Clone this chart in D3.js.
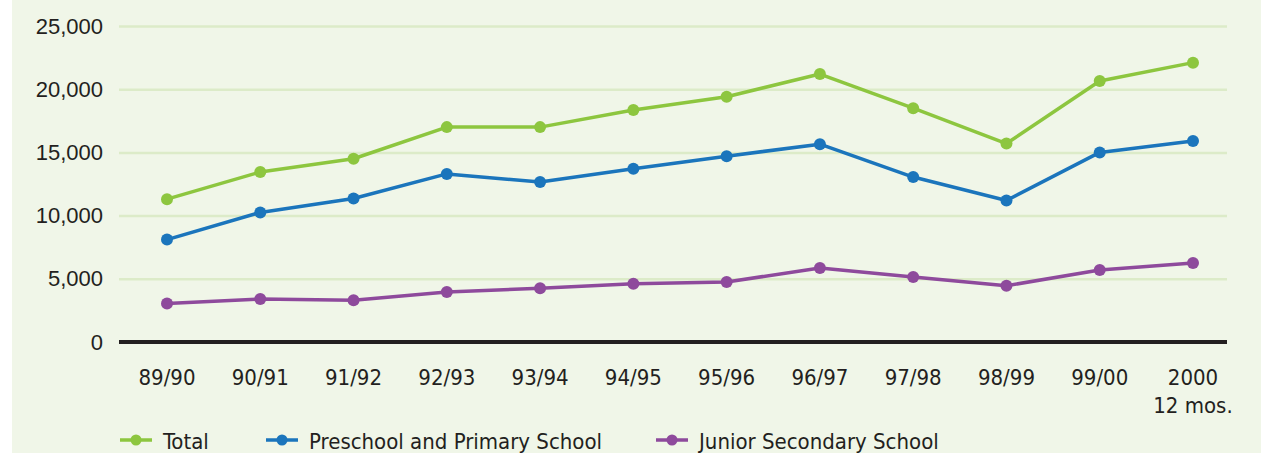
<!DOCTYPE html>
<html>
<head>
<meta charset="utf-8">
<script src="https://cdn.jsdelivr.net/npm/d3@7"></script>
<style>
  html, body { margin: 0; padding: 0; background: #fff; }
  svg { display: block; }
</style>
</head>
<body>
<div class="chart"></div>
<script>
// categories (fiscal years)
const years = ['89/90', '90/91', '91/92', '92/93', '93/94', '94/95', '95/96', '96/97', '97/98', '98/99', '99/00', '2000\n12 mos.'];

// series values
const total = [11300, 13450, 14500, 17000, 17000, 18350, 19400, 21200, 18500, 15700, 20650, 22100];
const preschool = [8100, 10250, 11350, 13300, 12650, 13700, 14700, 15650, 13050, 11200, 15000, 15900];
const junior = [3050, 3400, 3300, 3950, 4250, 4600, 4750, 5850, 5150, 4450, 5700, 6250];

const seriesNames = ['Total', 'Preschool and Primary School', 'Junior Secondary School'];
const seriesColors = ['#8dc63f', '#1b75bc', '#8e4a9c'];

const yTicks = [0, 5000, 10000, 15000, 20000, 25000];

const width = 1261, height = 453;

const svg = d3.select('.chart').append('svg')
    .attr('width', width)
    .attr('height', height);

// panel background
svg.append('rect')
    .attr('x', 12)
    .attr('y', 0)
    .attr('width', width - 12)
    .attr('height', height)
    .attr('fill', '#f0f6e8');

const plotLeft = 119, plotRight = 1227;

const x = d3.scalePoint()
    .domain(years)
    .range([167, 1193]);

const y = d3.scaleLinear()
    .domain([0, 25000])
    .range([342, 26]);

// gridlines + y labels
const yAxis = d3.axisLeft(y)
    .tickValues(yTicks)
    .tickSize(-(plotRight - plotLeft))
    .tickPadding(16)
    .tickFormat(d3.format(','));

const gy = svg.append('g')
    .attr('transform', 'translate(' + plotLeft + ',0)')
    .call(yAxis);
gy.select('.domain').remove();
gy.selectAll('.tick line')
    .attr('stroke', '#dcebc8')
    .attr('stroke-width', 2.5);
gy.selectAll('.tick text')
    .attr('fill', '#231f20')
    .attr('font-family', '"Liberation Sans", Arial, sans-serif')
    .attr('font-size', '22px');
gy.selectAll('.tick').filter(d => d === 0).select('line').remove();

// baseline
svg.append('line')
    .attr('x1', plotLeft)
    .attr('x2', plotRight)
    .attr('y1', y(0))
    .attr('y2', y(0))
    .attr('stroke', '#231f20')
    .attr('stroke-width', 4);

// x labels
const xLabels = svg.append('g');
years.forEach(function(cat) {
  const t = xLabels.append('text')
      .attr('x', x(cat))
      .attr('y', 385)
      .attr('text-anchor', 'middle')
      .attr('fill', '#231f20')
      .attr('font-family', '"DejaVu Sans Condensed", "DejaVu Sans", sans-serif')
      .attr('font-stretch', 'condensed')
      .attr('font-size', '22px');
  cat.split('\n').forEach(function(line, i) {
    t.append('tspan')
        .attr('x', x(cat))
        .attr('dy', i === 0 ? 0 : 28)
        .text(line);
  });
});

// lines + dots
const series = [total, preschool, junior];
const line = d3.line()
    .x((d, i) => x(years[i]))
    .y(d => y(d));

series.forEach(function(vals, s) {
  svg.append('path')
      .datum(vals)
      .attr('d', line)
      .attr('fill', 'none')
      .attr('stroke', seriesColors[s])
      .attr('stroke-width', 3.5)
      .attr('stroke-linejoin', 'round');

  svg.selectAll('.dot-' + s)
      .data(vals)
      .enter().append('circle')
      .attr('class', 'dot-' + s)
      .attr('cx', (d, i) => x(years[i]))
      .attr('cy', d => y(d))
      .attr('r', 6)
      .attr('fill', seriesColors[s]);
});

// legend
const legendX = [120, 266, 656];
const legendY = 440;
seriesNames.forEach(function(name, s) {
  const g = svg.append('g')
      .attr('transform', 'translate(' + legendX[s] + ',' + legendY + ')');
  g.append('line')
      .attr('x1', 0)
      .attr('x2', 32)
      .attr('stroke', seriesColors[s])
      .attr('stroke-width', 3.5);
  g.append('circle')
      .attr('cx', 16)
      .attr('r', 5.5)
      .attr('fill', seriesColors[s]);
  g.append('text')
      .attr('x', 43)
      .attr('y', 9)
      .attr('fill', '#231f20')
      .attr('font-family', '"DejaVu Sans Condensed", "DejaVu Sans", sans-serif')
      .attr('font-stretch', 'condensed')
      .attr('font-size', '22px')
      .text(name);
});
</script>
</body>
</html>
